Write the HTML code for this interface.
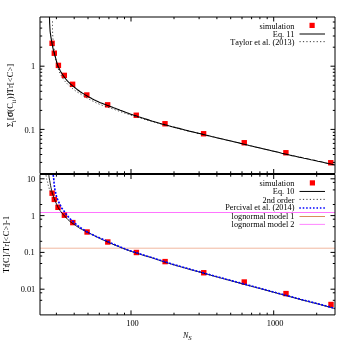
<!DOCTYPE html>
<html><head><meta charset="utf-8"><title>plot</title>
<style>
html,body{margin:0;padding:0;background:#fff;}
body{width:350px;height:350px;overflow:hidden;}
svg{display:block;will-change:transform;}
text{font-family:"Liberation Serif",serif;fill:#000;font-kerning:none;}
</style></head><body>
<svg width="350" height="350" viewBox="0 0 350 350">
<rect width="350" height="350" fill="#fff"/>

<path d="M40.0,212.5 H335.0" stroke="#ff50ff" stroke-width="0.8" fill="none"/>
<path d="M40.0,248.2 H335.0" stroke="#f0b39b" stroke-width="0.95" fill="none"/>
<rect x="49.40" y="40.60" width="5.4" height="5.4" fill="#ff0000"/>
<rect x="51.60" y="50.50" width="5.4" height="5.4" fill="#ff0000"/>
<rect x="55.70" y="62.70" width="5.4" height="5.4" fill="#ff0000"/>
<rect x="61.60" y="72.70" width="5.4" height="5.4" fill="#ff0000"/>
<rect x="69.90" y="81.60" width="5.4" height="5.4" fill="#ff0000"/>
<rect x="84.10" y="92.30" width="5.4" height="5.4" fill="#ff0000"/>
<rect x="104.95" y="102.15" width="5.4" height="5.4" fill="#ff0000"/>
<rect x="133.55" y="112.55" width="5.4" height="5.4" fill="#ff0000"/>
<rect x="162.30" y="121.05" width="5.4" height="5.4" fill="#ff0000"/>
<rect x="200.90" y="131.05" width="5.4" height="5.4" fill="#ff0000"/>
<rect x="241.55" y="140.05" width="5.4" height="5.4" fill="#ff0000"/>
<rect x="283.20" y="150.05" width="5.4" height="5.4" fill="#ff0000"/>
<rect x="328.05" y="160.05" width="5.4" height="5.4" fill="#ff0000"/>
<rect x="49.40" y="190.50" width="5.4" height="5.4" fill="#ff0000"/>
<rect x="51.60" y="196.70" width="5.4" height="5.4" fill="#ff0000"/>
<rect x="55.30" y="204.60" width="5.4" height="5.4" fill="#ff0000"/>
<rect x="61.70" y="212.50" width="5.4" height="5.4" fill="#ff0000"/>
<rect x="70.10" y="219.90" width="5.4" height="5.4" fill="#ff0000"/>
<rect x="84.40" y="229.30" width="5.4" height="5.4" fill="#ff0000"/>
<rect x="105.10" y="239.30" width="5.4" height="5.4" fill="#ff0000"/>
<rect x="133.70" y="249.80" width="5.4" height="5.4" fill="#ff0000"/>
<rect x="162.40" y="258.90" width="5.4" height="5.4" fill="#ff0000"/>
<rect x="201.05" y="270.05" width="5.4" height="5.4" fill="#ff0000"/>
<rect x="241.55" y="279.30" width="5.4" height="5.4" fill="#ff0000"/>
<rect x="283.30" y="290.90" width="5.4" height="5.4" fill="#ff0000"/>
<rect x="328.30" y="301.80" width="5.4" height="5.4" fill="#ff0000"/>
<path d="M52.5,21.4 L52.5,22.4 L52.5,23.5 L52.5,24.5 L52.5,25.6 L52.5,26.6 L52.5,27.7 L52.5,28.7 L52.5,29.8 L52.5,30.8 L52.6,31.9 L52.6,32.9 L52.7,34.0 L52.7,35.0 L52.8,36.1 L52.9,37.1 L52.9,38.2 L53.0,39.2 L53.1,40.3 L53.1,41.3 L53.2,42.4 L53.3,43.4 L53.5,44.4 L53.6,45.5 L53.7,46.5 L53.9,47.6 L54.0,48.6 L54.2,49.6 L54.3,50.7 L54.5,51.7 L54.6,52.8 L54.8,53.8 L54.9,54.8 L55.1,55.9 L55.3,56.9 L55.5,57.9 L55.7,59.0 L55.9,60.0 L56.1,61.0 L56.3,62.0 L56.6,63.1 L56.8,64.1 L57.1,65.1 L57.4,66.1 L57.7,67.1 L58.0,68.1 L58.4,69.1 L58.7,70.1 L59.1,71.1 L59.5,72.0 L59.9,73.0 L60.4,73.9 L60.9,74.9 L61.4,75.8 L61.9,76.7 L62.5,77.6 L63.0,78.5 L63.5,79.4 L64.1,80.2 L64.8,81.1 L65.5,81.9 L66.2,82.6 L66.9,83.4 L67.6,84.1 L68.4,84.9 L69.2,85.6 L69.9,86.3 L70.7,87.0 L71.5,87.7 L72.3,88.4 L73.1,89.0 L73.9,89.7 L74.8,90.3 L75.6,90.9 L76.5,91.5 L77.4,92.1 L78.3,92.6 L79.2,93.1 L80.1,93.7 L80.9,94.3 L81.8,94.9 L82.7,95.4 L83.6,96.0 L84.5,96.5 L85.4,97.0 L86.3,97.6 L87.3,98.1 L88.2,98.6 L89.1,99.1 L90.0,99.6 L90.9,100.1 L91.8,100.6 L92.8,101.1 L93.7,101.6 L94.6,102.1 L95.6,102.5 L96.5,103.0 L97.5,103.4 L98.4,103.8 L99.4,104.2 L100.4,104.6 L101.4,105.0 L102.3,105.4 L103.3,105.7 L104.3,106.1 L105.3,106.4 L106.3,106.8 L107.3,107.1 L108.3,107.4 L109.3,107.7 L110.3,108.1 L111.3,108.4 L112.3,108.7 L113.3,109.1 L114.3,109.4 L115.3,109.8 L116.2,110.1 L117.2,110.5 L118.2,110.8 L119.2,111.2 L120.2,111.5 L121.2,111.9 L122.2,112.2 L123.2,112.6 L124.2,112.9 L125.2,113.3 L126.1,113.6 L127.1,113.9 L128.1,114.2 L129.1,114.6 L130.1,114.9 L131.1,115.2 L132.1,115.5 L133.1,115.8 L134.1,116.1 L135.1,116.5 L136.1,116.8 L137.1,117.1 L138.2,117.4 L139.2,117.7 L140.2,118.0 L141.2,118.3 L142.2,118.6 L143.2,118.9 L144.2,119.2 L145.2,119.5 L146.2,119.8 L147.2,120.1 L148.2,120.4 L149.2,120.7 L150.2,121.0 L151.2,121.2 L152.2,121.5 L153.2,121.8 L154.3,122.1 L155.3,122.4 L156.3,122.7 L157.3,122.9 L158.3,123.2 L159.3,123.5 L160.3,123.8 L161.3,124.0 L162.4,124.3 L163.4,124.6 L164.4,124.8 L165.4,125.1 L166.4,125.4 L167.4,125.7 L168.4,125.9 L169.5,126.2 L170.5,126.5 L171.5,126.7 L172.5,127.0 L173.5,127.2 L174.5,127.5 L175.6,127.8 L176.6,128.0 L177.6,128.3 L178.6,128.5 L179.6,128.8 L180.6,129.1 L181.7,129.3 L182.7,129.6 L183.7,129.8 L184.7,130.1 L185.7,130.3 L186.7,130.6 L187.8,130.8 L188.8,131.1 L189.8,131.3 L190.8,131.6 L191.8,131.8 L192.9,132.1 L193.9,132.3 L194.9,132.6 L195.9,132.8 L196.9,133.1 L198.0,133.3 L199.0,133.6 L200.0,133.8" stroke="#222" stroke-width="0.9" stroke-dasharray="1.2 2.23" fill="none"/>
<path d="M49.5,17.0 L49.5,18.8 L49.6,20.5 L49.6,22.3 L49.7,24.0 L49.8,25.8 L49.9,27.6 L50.0,29.3 L50.1,31.1 L50.3,32.8 L50.6,34.6 L50.8,36.3 L51.1,38.1 L51.4,39.8 L51.7,41.5 L52.0,43.3 L52.3,45.0 L52.6,46.7 L53.0,48.4 L53.4,50.2 L53.9,51.8 L54.4,53.5 L54.8,55.2 L55.3,56.9 L55.8,58.6 L56.2,60.3 L56.7,62.0 L57.2,63.7 L57.8,65.4 L58.4,67.0 L59.2,68.6 L60.0,70.2 L60.8,71.7 L61.7,73.2 L62.7,74.7 L63.7,76.2 L64.7,77.6 L65.8,79.0 L66.9,80.3 L68.1,81.6 L69.4,82.9 L70.6,84.1 L72.0,85.3 L73.3,86.4 L74.7,87.5 L76.1,88.6 L77.5,89.7 L78.9,90.7 L80.3,91.7 L81.8,92.7 L83.3,93.6 L84.8,94.6 L86.3,95.5 L87.8,96.4 L89.4,97.2 L90.9,98.0 L92.5,98.9 L94.0,99.7 L95.6,100.5 L97.2,101.2 L98.8,102.0 L100.4,102.7 L102.0,103.3 L103.7,103.9 L105.3,104.5 L107.0,105.2 L108.6,105.8 L110.3,106.4 L111.9,107.0 L113.6,107.7 L115.2,108.3 L116.9,108.9 L118.5,109.5 L120.2,110.2 L121.8,110.8 L123.5,111.4 L125.1,112.1 L126.7,112.7 L128.4,113.3 L130.0,113.9 L131.7,114.5 L133.4,115.1 L135.1,115.6 L136.7,116.1 L138.4,116.7 L140.1,117.2 L141.8,117.8 L143.4,118.3 L145.1,118.9 L146.8,119.4 L148.5,119.9 L150.1,120.4 L151.8,121.0 L153.5,121.5 L155.2,122.0 L156.9,122.5 L158.6,123.0 L160.3,123.5 L162.0,124.0 L163.7,124.4 L165.4,124.9 L167.1,125.3 L168.8,125.8 L170.5,126.2 L172.2,126.7 L173.9,127.1 L175.6,127.6 L177.3,128.0 L179.0,128.4 L180.7,128.9 L182.4,129.3 L184.1,129.8 L185.8,130.2 L187.5,130.6 L189.2,131.1 L190.9,131.5 L192.6,131.9 L194.3,132.3 L196.1,132.7 L197.8,133.1 L199.5,133.5 L201.2,133.9 L202.9,134.4 L204.6,134.8 L206.3,135.2 L208.0,135.6 L209.8,136.0 L211.5,136.5 L213.2,136.9 L214.9,137.3 L216.6,137.7 L218.3,138.1 L220.0,138.5 L221.7,138.9 L223.5,139.3 L225.2,139.7 L226.9,140.1 L228.6,140.5 L230.3,140.9 L232.0,141.3 L233.8,141.7 L235.5,142.1 L237.2,142.5 L238.9,142.9 L240.6,143.4 L242.3,143.8 L244.0,144.2 L245.7,144.6 L247.4,145.0 L249.2,145.5 L250.9,145.9 L252.6,146.3 L254.3,146.7 L256.0,147.1 L257.7,147.5 L259.4,147.9 L261.1,148.3 L262.9,148.7 L264.6,149.1 L266.3,149.5 L268.0,149.9 L269.7,150.3 L271.4,150.7 L273.1,151.1 L274.9,151.5 L276.6,151.9 L278.3,152.3 L280.0,152.7 L281.7,153.2 L283.4,153.6 L285.1,154.0 L286.9,154.4 L288.6,154.8 L290.3,155.2 L292.0,155.6 L293.7,155.9 L295.4,156.3 L297.2,156.7 L298.9,157.1 L300.6,157.4 L302.3,157.8 L304.0,158.2 L305.8,158.5 L307.5,158.9 L309.2,159.3 L310.9,159.7 L312.7,160.0 L314.4,160.4 L316.1,160.8 L317.8,161.2 L319.5,161.5 L321.3,161.9 L323.0,162.3 L324.7,162.7 L326.4,163.1 L328.1,163.5 L329.8,163.8 L331.6,164.2 L333.3,164.6 L335.0,165.0" stroke="#000" stroke-width="1.1" fill="none"/>
<path d="M46.1,175.3 L46.1,175.4 L46.1,175.5 L46.1,175.6 L46.1,175.7 L46.1,175.8 L46.1,175.9 L46.1,176.0 L46.2,176.1 L46.2,176.2 L46.2,176.3 L46.2,176.4 L46.2,176.5 L46.2,176.6 L46.2,176.7 L46.2,176.8 L46.2,176.9 L46.3,177.0 L46.3,177.0 L46.3,177.1 L46.3,177.2 L46.3,177.3 L46.3,177.4 L46.3,177.5 L46.4,177.6 L46.4,177.7 L46.4,177.8 L46.4,177.9 L46.4,178.0 L46.4,178.1 L46.4,178.2 L46.5,178.3 L46.5,178.4 L46.5,178.5 L46.5,178.6 L46.5,178.7 L46.6,178.8 L46.6,178.9 L46.6,179.0 L46.6,179.0 L46.6,179.1 L46.7,179.2 L46.7,179.3 L46.7,179.4 L46.7,179.5 L46.8,179.6 L46.8,179.7 L46.8,179.8 L46.8,179.9 L46.9,180.0 L46.9,180.1 L46.9,180.2 L47.0,180.3 L47.0,180.4 L47.0,180.4 L47.1,180.5 L47.1,180.6 L47.1,180.7 L47.1,180.8 L47.2,180.9 L47.2,181.0 L47.2,181.1 L47.3,181.2 L47.3,181.3 L47.3,181.4 L47.4,181.5 L47.4,181.6 L47.4,181.7 L47.4,181.7 L47.5,181.8 L47.5,181.9 L47.5,182.0 L47.5,182.1 L47.6,182.2 L47.6,182.3 L47.6,182.4 L47.6,182.5 L47.6,182.6 L47.7,182.7 L47.7,182.8 L47.7,182.9 L47.7,183.0 L47.8,183.1 L47.8,183.2 L47.8,183.3 L47.8,183.4 L47.8,183.4 L47.9,183.5 L47.9,183.6 L47.9,183.7 L47.9,183.8 L47.9,183.9 L48.0,184.0 L48.0,184.1 L48.0,184.2 L48.0,184.3 L48.1,184.4 L48.1,184.5 L48.1,184.6 L48.1,184.7 L48.1,184.8 L48.2,184.9 L48.2,185.0 L48.2,185.1 L48.2,185.1 L48.3,185.2 L48.3,185.3 L48.3,185.4 L48.3,185.5 L48.4,185.6 L48.4,185.7 L48.4,185.8 L48.4,185.9 L48.5,186.0 L48.5,186.1 L48.5,186.2 L48.5,186.3 L48.6,186.4 L48.6,186.5 L48.6,186.6 L48.6,186.7 L48.7,186.7 L48.7,186.8 L48.7,186.9 L48.7,187.0 L48.8,187.1 L48.8,187.2 L48.8,187.3 L48.8,187.4 L48.9,187.5 L48.9,187.6 L48.9,187.7 L49.0,187.8 L49.0,187.9 L49.0,188.0 L49.0,188.1 L49.1,188.1 L49.1,188.2 L49.1,188.3 L49.2,188.4 L49.2,188.5 L49.2,188.6 L49.3,188.7 L49.3,188.8 L49.3,188.9 L49.4,189.0 L49.4,189.1 L49.4,189.1 L49.5,189.2 L49.5,189.3 L49.5,189.4 L49.6,189.5 L49.6,189.6 L49.7,189.7 L49.7,189.8 L49.7,189.9 L49.8,190.0 L49.8,190.0 L49.8,190.1 L49.9,190.2 L49.9,190.3 L50.0,190.4 L50.0,190.5 L50.0,190.6 L50.1,190.7 L50.1,190.8 L50.2,190.8 L50.2,190.9 L50.3,191.0 L50.3,191.1 L50.3,191.2 L50.4,191.3 L50.4,191.4 L50.5,191.5 L50.5,191.5 L50.6,191.6 L50.6,191.7 L50.7,191.8 L50.7,191.9 L50.7,192.0 L50.8,192.0 L50.8,192.1 L50.9,192.2 L50.9,192.3 L51.0,192.4 L51.0,192.5 L51.1,192.5 L51.1,192.6 L51.2,192.7 L51.3,192.8 L51.3,192.9 L51.4,193.0 L51.4,193.0 L51.5,193.1 L51.5,193.2 L51.6,193.3 L51.6,193.4 L51.7,193.4 L51.7,193.5 L51.8,193.6" stroke="#222" stroke-width="0.9" stroke-dasharray="1.2 2.23" fill="none"/>
<path d="M48.7,174.0 L48.9,175.7 L49.1,177.3 L49.4,179.0 L49.7,180.6 L50.0,182.3 L50.3,183.9 L50.6,185.6 L50.9,187.2 L51.3,188.9 L51.6,190.5 L52.1,192.1 L52.5,193.7 L53.1,195.3 L53.6,196.9 L54.2,198.5 L54.8,200.0 L55.4,201.6 L56.1,203.1 L56.8,204.6 L57.5,206.2 L58.2,207.7 L59.1,209.1 L60.0,210.5 L61.0,211.8 L62.1,213.2 L63.1,214.4 L64.3,215.7 L65.4,216.9 L66.5,218.2 L67.7,219.4 L68.9,220.5 L70.2,221.6 L71.5,222.6 L72.9,223.6 L74.3,224.5 L75.7,225.5 L77.0,226.4 L78.4,227.4 L79.8,228.3 L81.3,229.1 L82.8,229.9 L84.3,230.6 L85.8,231.4 L87.3,232.1 L88.8,232.9 L90.3,233.6 L91.8,234.4 L93.3,235.2 L94.7,235.9 L96.2,236.7 L97.7,237.4 L99.3,238.1 L100.8,238.9 L102.3,239.6 L103.8,240.3 L105.3,240.9 L106.9,241.6 L108.4,242.3 L109.9,243.0 L111.5,243.6 L113.0,244.3 L114.6,245.0 L116.1,245.6 L117.7,246.2 L119.2,246.9 L120.8,247.5 L122.3,248.1 L123.9,248.7 L125.4,249.3 L127.0,249.9 L128.6,250.5 L130.2,251.1 L131.8,251.6 L133.3,252.1 L134.9,252.6 L136.5,253.1 L138.1,253.6 L139.7,254.1 L141.3,254.6 L142.9,255.2 L144.5,255.7 L146.1,256.1 L147.8,256.6 L149.4,257.0 L151.0,257.5 L152.6,258.0 L154.2,258.5 L155.7,259.1 L157.3,259.6 L158.9,260.1 L160.5,260.7 L162.1,261.2 L163.7,261.7 L165.3,262.2 L166.9,262.7 L168.5,263.2 L170.1,263.7 L171.7,264.2 L173.3,264.7 L174.9,265.1 L176.5,265.6 L178.1,266.1 L179.8,266.5 L181.4,267.0 L183.0,267.5 L184.6,267.9 L186.2,268.4 L187.8,268.9 L189.4,269.3 L191.0,269.8 L192.6,270.2 L194.3,270.7 L195.9,271.1 L197.5,271.5 L199.1,272.0 L200.7,272.4 L202.3,272.8 L204.0,273.3 L205.6,273.8 L207.2,274.2 L208.8,274.7 L210.4,275.1 L212.0,275.6 L213.6,276.0 L215.3,276.5 L216.9,276.9 L218.5,277.4 L220.1,277.8 L221.7,278.3 L223.3,278.7 L224.9,279.1 L226.6,279.6 L228.2,280.0 L229.8,280.4 L231.4,280.9 L233.0,281.3 L234.7,281.8 L236.3,282.2 L237.9,282.6 L239.5,283.1 L241.1,283.5 L242.7,283.9 L244.4,284.4 L246.0,284.8 L247.6,285.3 L249.2,285.7 L250.8,286.1 L252.5,286.6 L254.1,287.0 L255.7,287.4 L257.3,287.9 L258.9,288.3 L260.5,288.7 L262.2,289.2 L263.8,289.6 L265.4,290.1 L267.0,290.5 L268.6,290.9 L270.2,291.4 L271.9,291.8 L273.5,292.2 L275.1,292.7 L276.7,293.1 L278.3,293.6 L280.0,294.0 L281.6,294.4 L283.2,294.9 L284.8,295.3 L286.4,295.7 L288.0,296.2 L289.7,296.6 L291.3,297.0 L292.9,297.5 L294.5,297.9 L296.1,298.4 L297.8,298.8 L299.4,299.2 L301.0,299.7 L302.6,300.1 L304.2,300.5 L305.9,300.9 L307.5,301.3 L309.1,301.8 L310.7,302.2 L312.3,302.6 L314.0,303.0 L315.6,303.4 L317.2,303.8 L318.8,304.3 L320.5,304.7 L322.1,305.1 L323.7,305.6 L325.3,306.0 L326.9,306.4 L328.5,306.9 L330.2,307.3 L331.8,307.8 L333.4,308.2 L335.0,308.7" stroke="#000" stroke-width="0.9" fill="none"/>
<path d="M53.2,174.8 L53.4,176.4 L53.6,178.1 L53.8,179.7 L53.9,181.4 L54.1,183.0 L54.2,184.7 L54.4,186.3 L54.7,188.0 L54.9,189.6 L55.3,191.2 L55.6,192.8 L56.0,194.5 L56.4,196.1 L56.9,197.7 L57.5,199.2 L58.1,200.7 L58.8,202.2 L59.5,203.7 L60.3,205.2 L61.0,206.7 L61.8,208.2 L62.8,209.5 L63.8,210.8 L64.7,212.2 L65.6,213.6 L66.6,214.9 L67.7,216.1 L68.8,217.4 L69.9,218.6 L71.1,219.8 L72.3,220.9 L73.5,222.0 L74.7,223.1 L76.0,224.2 L77.3,225.3 L78.6,226.3 L79.9,227.3 L81.3,228.2 L82.7,229.1 L84.1,230.0 L85.5,230.9 L86.8,231.8 L88.3,232.7 L89.7,233.4 L91.2,234.1 L92.7,234.8 L94.2,235.5 L95.8,236.2 L97.3,236.8 L98.8,237.5 L100.3,238.2 L101.8,238.8 L103.4,239.5 L104.9,240.2 L106.4,240.9 L107.9,241.6 L109.4,242.2 L110.9,242.9 L112.4,243.6 L114.0,244.2 L115.5,244.9 L117.0,245.5 L118.5,246.2 L120.1,246.8 L121.6,247.4 L123.1,248.1 L124.7,248.7 L126.2,249.3 L127.8,249.9 L129.3,250.5 L130.9,251.0 L132.4,251.5 L134.0,252.0 L135.6,252.5 L137.2,253.0 L138.8,253.5 L140.3,254.0 L141.9,254.5 L143.5,255.0 L145.1,255.5 L146.7,256.0 L148.3,256.4 L149.9,256.9 L151.4,257.3 L153.0,257.9 L154.6,258.4 L156.2,258.9 L157.7,259.4 L159.3,260.0 L160.9,260.5 L162.5,261.0 L164.0,261.5 L165.6,262.0 L167.2,262.5 L168.8,263.0 L170.4,263.5 L171.9,264.0 L173.5,264.4 L175.1,264.9 L176.7,265.4 L178.3,265.8 L179.9,266.3 L181.5,266.7 L183.1,267.2 L184.7,267.7 L186.3,268.1 L187.9,268.6 L189.5,269.0 L191.0,269.5 L192.6,269.9 L194.2,270.4 L195.8,270.8 L197.4,271.2 L199.0,271.6 L200.6,272.1 L202.2,272.5 L203.8,273.0 L205.4,273.4 L207.0,273.9 L208.6,274.3 L210.2,274.8 L211.8,275.2 L213.4,275.7 L215.0,276.1 L216.6,276.6 L218.2,277.0 L219.8,277.4 L221.4,277.9 L223.0,278.3 L224.6,278.7 L226.2,279.2 L227.8,279.6 L229.4,280.0 L231.0,280.5 L232.6,280.9 L234.2,281.3 L235.8,281.8 L237.4,282.2 L239.0,282.6 L240.6,283.1 L242.2,283.5 L243.8,283.9 L245.4,284.4 L247.0,284.8 L248.6,285.2 L250.2,285.6 L251.8,286.1 L253.4,286.5 L255.0,286.9 L256.6,287.4 L258.2,287.8 L259.8,288.2 L261.4,288.7 L263.0,289.1 L264.6,289.5 L266.2,290.0 L267.8,290.4 L269.4,290.8 L271.0,291.3 L272.6,291.7 L274.2,292.1 L275.8,292.6 L277.4,293.0 L279.0,293.4 L280.6,293.9 L282.2,294.3 L283.8,294.7 L285.4,295.2 L287.0,295.6 L288.6,296.0 L290.2,296.4 L291.8,296.9 L293.4,297.3 L295.0,297.7 L296.6,298.2 L298.2,298.6 L299.8,299.0 L301.4,299.5 L303.0,299.9 L304.6,300.3 L306.2,300.7 L307.8,301.1 L309.4,301.5 L311.0,302.0 L312.6,302.4 L314.2,302.8 L315.8,303.2 L317.4,303.6 L319.0,304.0 L320.6,304.4 L322.2,304.9 L323.8,305.3 L325.4,305.7 L327.0,306.2 L328.6,306.6 L330.2,307.0 L331.8,307.5 L333.4,307.9 L335.0,308.4" stroke="#0000ff" stroke-width="1.6" stroke-dasharray="2.0 1.43" fill="none"/>
<path d="M56.4,314.9 v-2.2 M56.4,174.5 v2.2 M56.4,173.5 v-2.2 M56.4,17.0 v2.2 M74.2,314.9 v-2.2 M74.2,174.5 v2.2 M74.2,173.5 v-2.2 M74.2,17.0 v2.2 M88.0,314.9 v-2.2 M88.0,174.5 v2.2 M88.0,173.5 v-2.2 M88.0,17.0 v2.2 M99.3,314.9 v-2.2 M99.3,174.5 v2.2 M99.3,173.5 v-2.2 M99.3,17.0 v2.2 M108.9,314.9 v-2.2 M108.9,174.5 v2.2 M108.9,173.5 v-2.2 M108.9,17.0 v2.2 M117.2,314.9 v-2.2 M117.2,174.5 v2.2 M117.2,173.5 v-2.2 M117.2,17.0 v2.2 M124.5,314.9 v-2.2 M124.5,174.5 v2.2 M124.5,173.5 v-2.2 M124.5,17.0 v2.2 M174.0,314.9 v-2.2 M174.0,174.5 v2.2 M174.0,173.5 v-2.2 M174.0,17.0 v2.2 M199.1,314.9 v-2.2 M199.1,174.5 v2.2 M199.1,173.5 v-2.2 M199.1,17.0 v2.2 M216.9,314.9 v-2.2 M216.9,174.5 v2.2 M216.9,173.5 v-2.2 M216.9,17.0 v2.2 M230.7,314.9 v-2.2 M230.7,174.5 v2.2 M230.7,173.5 v-2.2 M230.7,17.0 v2.2 M242.0,314.9 v-2.2 M242.0,174.5 v2.2 M242.0,173.5 v-2.2 M242.0,17.0 v2.2 M251.6,314.9 v-2.2 M251.6,174.5 v2.2 M251.6,173.5 v-2.2 M251.6,17.0 v2.2 M259.9,314.9 v-2.2 M259.9,174.5 v2.2 M259.9,173.5 v-2.2 M259.9,17.0 v2.2 M267.2,314.9 v-2.2 M267.2,174.5 v2.2 M267.2,173.5 v-2.2 M267.2,17.0 v2.2 M316.7,314.9 v-2.2 M316.7,174.5 v2.2 M316.7,173.5 v-2.2 M316.7,17.0 v2.2 M131.0,314.9 v-4.5 M131.0,174.5 v4.5 M131.0,173.5 v-4.5 M131.0,17.0 v4.5 M273.7,314.9 v-4.5 M273.7,174.5 v4.5 M273.7,173.5 v-4.5 M273.7,17.0 v4.5 M40.0,66.2 h4.5 M335.0,66.2 h-4.5 M40.0,129.4 h4.5 M335.0,129.4 h-4.5 M40.0,47.2 h2.2 M335.0,47.2 h-2.2 M40.0,36.0 h2.2 M335.0,36.0 h-2.2 M40.0,28.1 h2.2 M335.0,28.1 h-2.2 M40.0,22.0 h2.2 M335.0,22.0 h-2.2 M40.0,110.4 h2.2 M335.0,110.4 h-2.2 M40.0,99.2 h2.2 M335.0,99.2 h-2.2 M40.0,91.3 h2.2 M335.0,91.3 h-2.2 M40.0,85.2 h2.2 M335.0,85.2 h-2.2 M40.0,80.2 h2.2 M335.0,80.2 h-2.2 M40.0,76.0 h2.2 M335.0,76.0 h-2.2 M40.0,72.3 h2.2 M335.0,72.3 h-2.2 M40.0,69.1 h2.2 M335.0,69.1 h-2.2 M40.0,162.4 h2.2 M335.0,162.4 h-2.2 M40.0,154.5 h2.2 M335.0,154.5 h-2.2 M40.0,148.4 h2.2 M335.0,148.4 h-2.2 M40.0,143.4 h2.2 M335.0,143.4 h-2.2 M40.0,139.2 h2.2 M335.0,139.2 h-2.2 M40.0,135.5 h2.2 M335.0,135.5 h-2.2 M40.0,132.3 h2.2 M335.0,132.3 h-2.2 M40.0,178.8 h4.5 M335.0,178.8 h-4.5 M40.0,215.6 h4.5 M335.0,215.6 h-4.5 M40.0,252.4 h4.5 M335.0,252.4 h-4.5 M40.0,289.2 h4.5 M335.0,289.2 h-4.5 M40.0,182.4 h2.2 M335.0,182.4 h-2.2 M40.0,189.9 h2.2 M335.0,189.9 h-2.2 M40.0,204.5 h2.2 M335.0,204.5 h-2.2 M40.0,219.2 h2.2 M335.0,219.2 h-2.2 M40.0,226.7 h2.2 M335.0,226.7 h-2.2 M40.0,241.3 h2.2 M335.0,241.3 h-2.2 M40.0,256.0 h2.2 M335.0,256.0 h-2.2 M40.0,263.5 h2.2 M335.0,263.5 h-2.2 M40.0,278.1 h2.2 M335.0,278.1 h-2.2 M40.0,292.8 h2.2 M335.0,292.8 h-2.2 M40.0,300.3 h2.2 M335.0,300.3 h-2.2" stroke="#000" stroke-width="1" fill="none"/>
<rect x="40.0" y="17.0" width="295.0" height="156.5" stroke="#000" stroke-width="1" stroke-linejoin="round" fill="none"/>
<rect x="40.0" y="174.5" width="295.0" height="140.39999999999998" stroke="#000" stroke-width="1" stroke-linejoin="round" fill="none"/>
<text x="35.2" y="69" font-size="8.4" text-anchor="end" >1</text>
<text x="34.9" y="133" font-size="8.4" text-anchor="end" >0.1</text>
<text x="35.3" y="182" font-size="8.4" text-anchor="end" >10</text>
<text x="35.2" y="219" font-size="8.4" text-anchor="end" >1</text>
<text x="34.8" y="255" font-size="8.4" text-anchor="end" >0.1</text>
<text x="35.3" y="292.3" font-size="8.4" text-anchor="end" >0.01</text>
<text x="132.5" y="326" font-size="8.4" text-anchor="middle" >100</text>
<text x="275.09999999999997" y="326" font-size="8.4" text-anchor="middle" >1000</text>
<text x="183" y="338" font-size="8" font-style="italic">N<tspan font-size="6.8" dy="2.3">S</tspan></text>
<text transform="translate(13.0,126.9) rotate(-90)" font-size="8.25" letter-spacing="0.2">Σ<tspan font-size="6" dy="2.5">i</tspan><tspan dy="-2.5">[</tspan><tspan font-size="9.8" stroke="#000" stroke-width="0.25">σ</tspan><tspan dx="-0.1">(</tspan>C<tspan font-size="6" dy="2.5">ii</tspan><tspan dy="-2.5">)]</tspan><tspan dx="-1.3">/</tspan><tspan dx="-1.1">Tr[&lt;C&gt;]</tspan></text>
<text transform="translate(9.0,273.0) rotate(-90)" font-size="8.25" letter-spacing="0.13">Tr<tspan dx="-0.8">[</tspan>C]/Tr<tspan dx="0.6">[</tspan><tspan dx="-1.0">&lt;</tspan><tspan dx="0.4">C</tspan>&gt;]-1</text>
<text x="294.4" y="28.5" font-size="8.25" text-anchor="end" >simulation</text>
<text x="294.4" y="36.75" font-size="8.25" text-anchor="end" >Eq. 11</text>
<text x="294.4" y="45.0" font-size="8.25" text-anchor="end" >Taylor et al. (2013)</text>
<rect x="309.5" y="22.8" width="5.2" height="5.2" fill="#ff0000"/>
<path d="M299.5,34.0 H325" stroke="#000" stroke-width="1.0"/>
<path d="M299.5,41.65 H325" stroke="#222" stroke-width="0.9" stroke-dasharray="1.2 2.23"/>
<text x="294.4" y="186" font-size="8.25" text-anchor="end" >simulation</text>
<text x="294.4" y="194" font-size="8.25" text-anchor="end" >Eq. 10</text>
<text x="294.4" y="203" font-size="8.25" text-anchor="end" >2nd order</text>
<text x="294.4" y="210.4" font-size="8.25" text-anchor="end" >Percival et al. (2014)</text>
<text x="294.4" y="219" font-size="8.25" text-anchor="end" >lognormal model 1</text>
<text x="294.4" y="227" font-size="8.25" text-anchor="end" >lognormal model 2</text>
<rect x="309.8" y="180.3" width="5.2" height="5.2" fill="#ff0000"/>
<path d="M299.5,191.45 H325" stroke="#000" stroke-width="1.0"/>
<path d="M299.5,199.4 H325" stroke="#222" stroke-width="0.9" stroke-dasharray="1.2 2.23"/>
<path d="M299.3,208 H325" stroke="#0000ff" stroke-width="1.35" stroke-dasharray="1.55 1.88"/>
<path d="M299.5,216.5 H325" stroke="#d98c5f" stroke-width="1"/>
<path d="M299.5,224.4 H325" stroke="#ff44ff" stroke-width="0.65"/>
</svg></body></html>
